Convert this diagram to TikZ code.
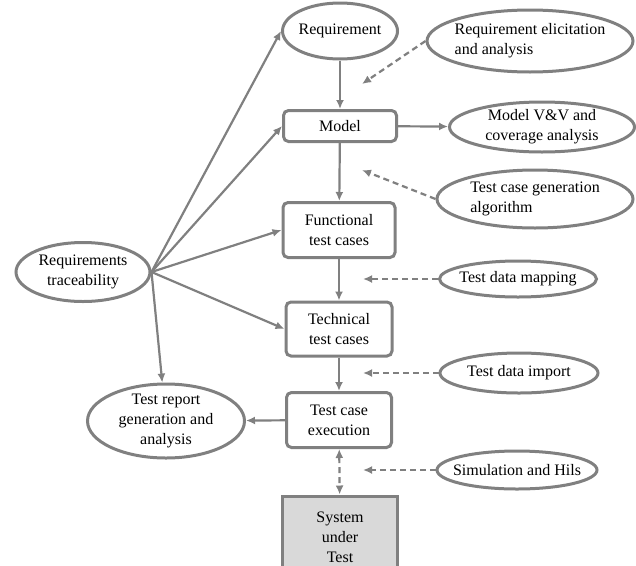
\documentclass[tikz,border=0pt]{standalone}
\usepackage{fontspec}
\setmainfont{Liberation Serif}
\usepackage{tikz}
\usetikzlibrary{shapes.geometric, arrows.meta}
\definecolor{linegray}{RGB}{128,128,128}
\definecolor{sutfill}{RGB}{217,217,217}

\begin{document}
\begin{tikzpicture}[x=1pt, y=-1pt, font=\fontsize{16}{20}\selectfont]
      \clip (0,0) rectangle (636,565);

      {\tikzstyle{every node}=[ellipse, draw=linegray, line width=3pt, inner sep=-10pt, align=center]
        \node[minimum width=115pt, minimum height=56pt] (req) at (340,31) {Requirement};
        \node[minimum width=206pt, minimum height=62pt, align=left] (elicit) at (530,41) {Requirement elicitation\\and analysis};
        \node[minimum width=185pt, minimum height=50pt] (vv) at (542,127) {Model V\&V and\\coverage analysis};
        \node[minimum width=196pt, minimum height=58pt, align=left] (gen) at (535,199) {Test case generation\\algorithm};
        \node[minimum width=157pt, minimum height=36pt] (mapping) at (518,279) {Test data mapping};
        \node[minimum width=158pt, minimum height=40pt] (import) at (519,373) {Test data import};
        \node[minimum width=160pt, minimum height=38pt] (sim) at (517,470) {Simulation and Hils};
        \node[minimum width=134pt, minimum height=59pt] (trace) at (83,272) {Requirements\\traceability};
        \node[minimum width=157pt, minimum height=74pt] (report) at (166,421) {Test report\\generation and\\analysis};
      }

      {\tikzstyle{every node}=[rectangle, rounded corners=5pt, draw=linegray, line width=3pt, align=center, inner sep=0pt]
        \node[minimum width=113pt, minimum height=31pt] (model) at (340,126) {Model};
        \node[minimum width=112pt, minimum height=55pt] (func) at (339,230) {Functional\\test cases};
        \node[minimum width=106pt, minimum height=54pt] (tech) at (339,329) {Technical\\test cases};
        \node[minimum width=105pt, minimum height=55pt] (exec) at (339,420) {Test case\\execution};
        \node[rounded corners=0pt, fill=sutfill, minimum width=115pt, minimum height=82pt] (sut) at (340,537) {System\\under\\Test};
      }

      \coordinate (hub) at (trace.east);
      \coordinate (elicit-tip) at (362,84);
      \coordinate (gen-tip) at (362,170);
      \coordinate (mapping-tip) at (363,279);
      \coordinate (import-tip) at (363,373);
      \coordinate (sim-tip) at (363,470);

      \tikzstyle{flow}=[-{Latex[length=9pt, width=8pt]}, draw=linegray, line width=2.2pt]

      \draw[flow] (req) -- (model);
      \draw[flow] (model) -- (func);
      \draw[flow] (func) -- (tech);
      \draw[flow] (tech) -- (exec);
      \draw[flow] (model) -- (vv);
      \draw[flow] (exec) -- (report);

      \foreach \n in {req.west, model.west, func.west, tech.west, report}
      {
        \draw[flow] (hub) -- (\n);
      }

      \foreach \n in {elicit, gen, mapping, import, sim}
      {
        \draw[flow, dash pattern=on 6pt off 4pt] (\n.west) -- (\n-tip);
      }

      \draw[flow, {Latex[length=9pt, width=8pt]}-{Latex[length=9pt, width=8pt]}, dash pattern=on 6pt off 4pt]
        (exec) -- (sut);
    \end{tikzpicture}
\end{document}
